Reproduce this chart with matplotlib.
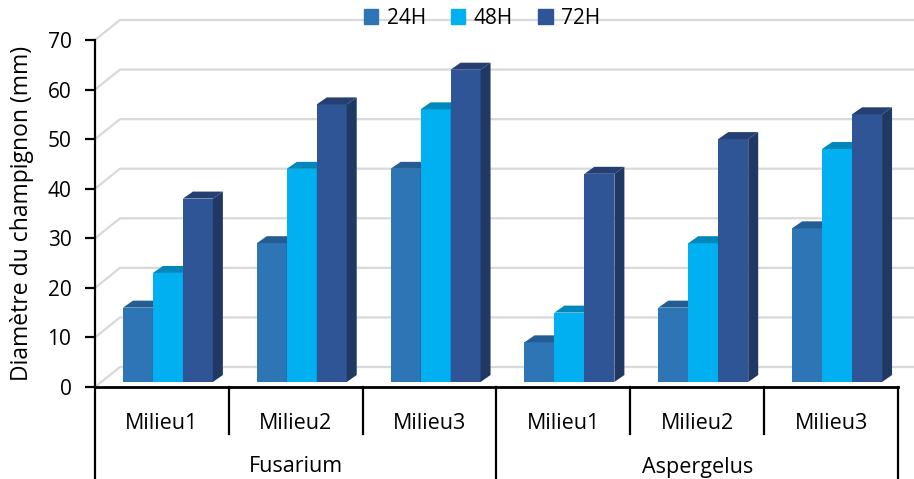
import numpy as np
import matplotlib
matplotlib.use('Agg')
import matplotlib.pyplot as plt
from matplotlib.patches import Polygon, Patch
from matplotlib.transforms import blended_transform_factory

plt.rcParams['font.family'] = ['Open Sans', 'DejaVu Sans']

groups = ['Fusarium', 'Aspergelus']
milieux = ['Milieu1', 'Milieu2', 'Milieu3', 'Milieu1', 'Milieu2', 'Milieu3']
series = ['24H', '48H', '72H']
v24 = [15, 28, 43, 8, 15, 31]
v48 = [22, 43, 55, 14, 28, 47]
v72 = [37, 56, 63, 42, 49, 54]

front_col = ['#2E75B6', '#00B0F0', '#2F5597']
top_col = ['#245D93', '#0088BA', '#253F72']
side_col = ['#1F4E79', '#0078A8', '#203864']

W, H = 914, 479
fig = plt.figure(figsize=(W / 100, H / 100), dpi=100)
ax = fig.add_axes([95 / W, 92 / H, 803 / W, 347 / H])
ncat = len(milieux)
ymax = 70
ax.set_xlim(0, ncat)
ax.set_ylim(0, ymax)

# pixel -> data unit conversions for the fake 3D
ppx = 803 / ncat
ppy = 347 / ymax
fx, fy = 6 / ppx, 5 / ppy        # front plane of the bars
dx, dy = 10 / ppx, 7 / ppy       # bar depth
bx, by = 25 / ppx, 20 / ppy      # back wall

# back wall gridlines
for g in range(0, ymax + 1, 10):
    ax.plot([0, bx, ncat + 1], [g, g + by, g + by], color='#d9d9d9', lw=1.6,
            clip_on=False, zorder=1, solid_capstyle='butt')

bw = 0.224
x = np.arange(ncat) + 0.5
vals = [v24, v48, v72]
for i, v in enumerate(vals):
    xs = x + (i - 1) * bw + fx
    ax.bar(xs, v, bw, bottom=fy, color=front_col[i], zorder=3 + i, linewidth=0)
    for xc, h in zip(xs, v):
        x0, x1 = xc - bw / 2, xc + bw / 2
        top = h + fy
        ax.add_patch(Polygon([(x0, top), (x1, top), (x1 + dx, top + dy), (x0 + dx, top + dy)],
                             closed=True, color=top_col[i], lw=0, zorder=3 + i))
        ax.add_patch(Polygon([(x1, fy), (x1 + dx, fy + dy), (x1 + dx, top + dy), (x1, top)],
                             closed=True, color=side_col[i], lw=0, zorder=3 + i))

for s in ['top', 'right']:
    ax.spines[s].set_visible(False)
ax.spines['left'].set_linewidth(1.6)
ax.spines['bottom'].set_linewidth(2)
ax.set_yticks(range(0, ymax + 1, 10))
ax.tick_params(axis='y', length=7, width=1.6, labelsize=15, pad=10)
ax.set_xticks(x)
ax.set_xticklabels(milieux)
ax.tick_params(axis='x', length=0, labelsize=15.5, pad=19)
ax.set_ylabel('Diamètre du champignon (mm)', fontsize=16.5)
ax.yaxis.set_label_coords(-73 / 803, 0.5)
ax.yaxis.label.set_verticalalignment('center')

# category separators
tr = blended_transform_factory(ax.transData, ax.transAxes)
for b in range(ncat + 1):
    low = -92 / 347 if b % 3 == 0 else -47 / 347
    ax.plot([b, b], [0, low], color='black', lw=1.6, transform=tr, clip_on=False)
for k, gname in enumerate(groups):
    ax.text(1.5 + 3 * k, -80 / 347, gname, transform=tr, ha='center', va='center', fontsize=15.5)

handles = [Patch(color=c) for c in front_col]
fig.legend(handles, series, loc='center', bbox_to_anchor=(482 / W, 1 - 18 / H), ncol=3,
           frameon=False, fontsize=15, handlelength=0.7, handleheight=0.7,
           handletextpad=0.4, columnspacing=1.2)

fig.savefig('out.png', dpi=100)
